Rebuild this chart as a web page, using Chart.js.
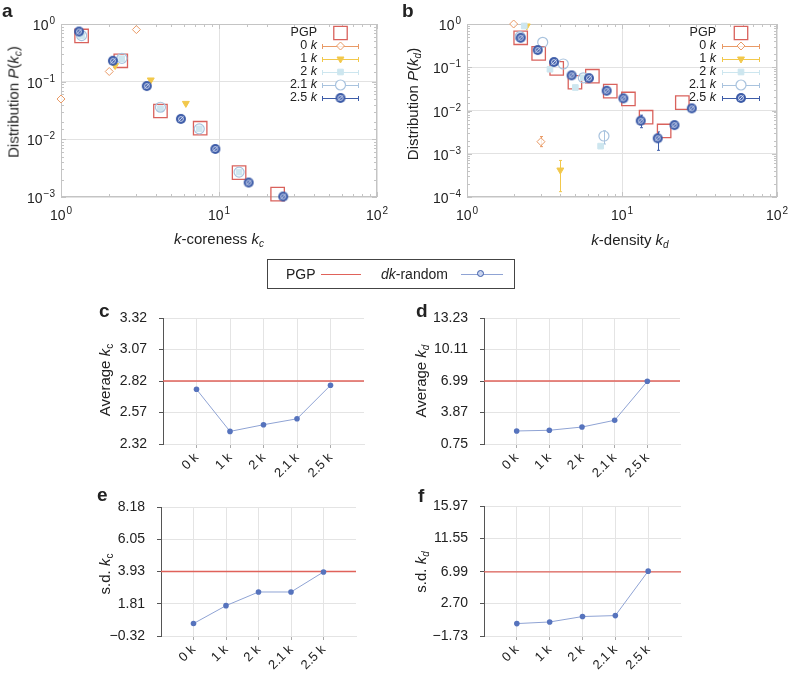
<!DOCTYPE html>
<html>
<head>
<meta charset="utf-8">
<title>k-coreness and k-density of dk-random graphs</title>
<script src="https://cdn.jsdelivr.net/npm/chart.js@4.4.1/dist/chart.umd.min.js"></script>
<style>
  body { margin: 0; background: #fff; }
  #fig { position: relative; width: 788px; height: 674px; font-family: "Liberation Sans", Arial, sans-serif; color: #222; overflow: hidden; }
  #fig canvas { position: absolute; }
  .tag { position: absolute; font-size: 19px; font-weight: bold; line-height: 19px; }
  .ttl { position: absolute; font-size: 15px; white-space: nowrap; transform: translate(-50%, -50%); }
  .ttl.v { transform: translate(-50%, -50%) rotate(-90deg); }
  .ttl sub { font-size: 10px; vertical-align: -3px; line-height: 0; }
  #leg { position: absolute; left: 267px; top: 259px; width: 246px; height: 28px; border: 1px solid #444; font-size: 14px; }
  #leg span { position: absolute; top: 6px; }
  #leg .ln { position: absolute; top: 14px; height: 0; }
  #leg .dot { position: absolute; top: 10px; width: 5px; height: 5px; border-radius: 50%; background: #c9d4ee; border: 1.5px solid #3d5ca8; }
</style>
</head>
<body>
<div id="fig">
  <canvas id="cA" width="390" height="250" style="left:0;top:0"></canvas>
  <canvas id="cB" width="398" height="250" style="left:390px;top:0"></canvas>
  <canvas id="cC" width="390" height="190" style="left:0;top:295px"></canvas>
  <canvas id="cD" width="398" height="190" style="left:390px;top:295px"></canvas>
  <canvas id="cE" width="390" height="194" style="left:0;top:480px"></canvas>
  <canvas id="cF" width="398" height="194" style="left:390px;top:480px"></canvas>

  <div class="tag" style="left:2px;top:1px">a</div>
  <div class="tag" style="left:402px;top:1px">b</div>
  <div class="tag" style="left:99px;top:301px">c</div>
  <div class="tag" style="left:416px;top:301px">d</div>
  <div class="tag" style="left:97px;top:485px">e</div>
  <div class="tag" style="left:418px;top:486px">f</div>

  <div class="ttl v" style="left:13px;top:102px">Distribution <i>P</i>(<i>k<sub>c</sub></i>)</div>
  <div class="ttl v" style="left:412px;top:104px">Distribution <i>P</i>(<i>k<sub>d</sub></i>)</div>
  <div class="ttl" style="left:219px;top:238px"><i>k</i>-coreness <i>k<sub>c</sub></i></div>
  <div class="ttl" style="left:630px;top:239px"><i>k</i>-density <i>k<sub>d</sub></i></div>
  <div class="ttl v" style="left:104px;top:380px">Average <i>k</i><sub>c</sub></div>
  <div class="ttl v" style="left:420px;top:381px">Average <i>k<sub>d</sub></i></div>
  <div class="ttl v" style="left:104px;top:574px">s.d. <i>k</i><sub>c</sub></div>
  <div class="ttl v" style="left:420px;top:572px">s.d. <i>k<sub>d</sub></i></div>

  <div id="leg">
    <span style="left:18px">PGP</span>
    <div class="ln" style="left:53px;width:40px;border-top:1px solid #e0625a"></div>
    <span style="left:113px"><i>dk</i>-random</span>
    <div class="ln" style="left:193px;width:42px;border-top:1px solid #8fa3d4"></div>
    <div class="dot" style="left:209px"></div>
  </div>
</div>

<script>
const FONT = '"Liberation Sans", Arial, sans-serif';

// panel a: distribution of k-coreness, [kc, P(kc)]
const kcPGP = [[1.35, 0.62], [2.39, 0.23], [4.26, 0.031], [7.6, 0.0156], [13.4, 0.00265], [23.5, 0.00112]];
const kc0k = [[1.0, 0.05], [2.02, 0.15], [3.0, 0.8]];
const kc1k = [[2.2, 0.19], [3.7, 0.107], [6.17, 0.042]];
const kc2k = [[1.35, 0.62], [2.42, 0.25], [4.26, 0.034], [7.5, 0.0152], [13.4, 0.0027]];
const kc21k = [[1.35, 0.63], [2.43, 0.254], [4.26, 0.036], [7.5, 0.0152], [13.4, 0.0027]];
const kc25k = [[1.30, 0.74], [2.13, 0.23], [3.49, 0.084], [5.74, 0.0226], [9.48, 0.0068], [15.4, 0.00178], [25.5, 0.00102]];

// panel b: distribution of k-density, [kd, P(kd)]
const kdPGP = [[2.22, 0.48], [2.9, 0.21], [3.79, 0.094], [4.97, 0.045], [6.44, 0.062], [8.4, 0.028], [11.0, 0.0185], [14.3, 0.0070], [18.7, 0.00336], [24.5, 0.0152]];
const kd0k = [[2.0, 1.0], [3.0, 0.0019]];
const kd1k = [[2.43, 0.9], [4.0, 0.00042]];
const kd2k = [[2.34, 0.9], [3.43, 0.09], [5.0, 0.034], [5.63, 0.057], [7.28, 0.0015]];
const kd21k = [[2.2, 0.51], [3.08, 0.377], [4.18, 0.119], [5.63, 0.057], [7.65, 0.00257]];
const kd25k = [[2.22, 0.48], [2.86, 0.25], [3.64, 0.132], [4.73, 0.065], [6.12, 0.056], [7.96, 0.0287], [10.2, 0.0191], [13.2, 0.0058], [17.0, 0.00228], [21.8, 0.0046], [28.2, 0.0112]];
// error bars [kd, low, high]
const kdErr0k = [[3.0, 0.00146, 0.0025]];
const kdErr1k = [[4.0, 0.000133, 0.0007]];
const kdErr21k = [[7.65, 0.00168, 0.0034]];
const kdErr25k = [[13.2, 0.0040, 0.0078], [17.0, 0.0012, 0.0032]];

// panels c-f
const models = ['0 k', '1 k', '2 k', '2.1 k', '2.5 k'];
const avgKc = [2.754, 2.42, 2.473, 2.52, 2.786];
const avgKd = [2.04, 2.11, 2.43, 3.10, 6.96];
const sdKc = [0.50, 1.68, 2.58, 2.58, 3.90];
const sdKd = [-0.04, 0.18, 0.92, 1.05, 7.1];
const pgpAvgKc = 2.82, pgpAvgKd = 6.99, pgpSdKc = 3.93, pgpSdKd = 6.99;
const ticksAvgKc = [2.32, 2.57, 2.82, 3.07, 3.32];
const ticksAvgKd = [0.75, 3.87, 6.99, 10.11, 13.23];
const ticksSdKc = [-0.32, 1.81, 3.93, 6.05, 8.18];
const ticksSdKd = [-1.73, 2.70, 6.99, 11.55, 15.97];

const seriesNames = ['PGP', '0 k', '1 k', '2 k', '2.1 k', '2.5 k'];

function dkMarker(r) {
  const c = document.createElement('canvas');
  c.width = c.height = 2 * r + 2;
  const g = c.getContext('2d');
  const m = r + 1;
  g.fillStyle = '#3d5ca8';
  g.beginPath(); g.arc(m, m, r, 0, Math.PI * 2); g.fill();
  g.strokeStyle = 'rgba(225,232,248,0.9)';
  g.lineWidth = 1;
  g.beginPath(); g.arc(m, m, r * 0.48, 0, Math.PI * 2); g.stroke();
  g.beginPath(); g.moveTo(m - r * 0.5, m + r * 0.5); g.lineTo(m + r * 0.5, m - r * 0.5); g.stroke();
  return c;
}

const seriesStyle = [
  { color: '#d9625c', fill: 'rgba(0,0,0,0)', pointStyle: 'rect', radius: 9.5, border: 1.3 },
  { color: '#e99a66', fill: 'rgba(255,255,255,0.8)', pointStyle: 'rectRot', radius: 4, border: 1 },
  { color: '#f2c84b', fill: '#f2c84b', pointStyle: 'triangle', radius: 4, rotation: 180, border: 1 },
  { color: '#cde6ef', fill: '#cde6ef', pointStyle: 'rect', radius: 4, border: 1 },
  { color: '#a9c3de', fill: 'rgba(0,0,0,0)', pointStyle: 'circle', radius: 5, border: 1.2 },
  { color: '#3d5ca8', fill: '#3d5ca8', pointStyle: dkMarker(5), radius: 5, border: 0 }
];

function isPow10(v) {
  const l = Math.log10(v);
  return Math.abs(l - Math.round(l)) < 1e-6;
}

function drawPow(ctx, e, x, y, align) {
  const base = '10', sup = e < 0 ? '\u2212' + (-e) : String(e);
  ctx.font = '14px ' + FONT;
  const wb = ctx.measureText(base).width;
  ctx.font = '10px ' + FONT;
  const ws = ctx.measureText(sup).width;
  const w = wb + ws + 1;
  const left = align === 'center' ? x - w / 2 : x - w;
  ctx.textAlign = 'left';
  ctx.textBaseline = 'alphabetic';
  ctx.font = '14px ' + FONT;
  ctx.fillText(base, left, y);
  ctx.font = '10px ' + FONT;
  ctx.fillText(sup, left + wb + 1, y - 6);
}

// frame, inward ticks and 10^n labels of the log panels
const logFrame = {
  id: 'logFrame',
  beforeDatasetsDraw(chart) {
    const { ctx, chartArea: a, scales: { x, y } } = chart;
    ctx.save();
    ctx.strokeStyle = '#c4c4c4';
    ctx.lineWidth = 1;
    ctx.strokeRect(a.left + 0.5, a.top + 0.5, a.right - a.left - 1, a.bottom - a.top - 1);
    ctx.beginPath();
    x.ticks.forEach(t => {
      const px = Math.round(x.getPixelForValue(t.value)) + 0.5;
      const len = isPow10(t.value) ? 5 : 3;
      ctx.moveTo(px, a.bottom); ctx.lineTo(px, a.bottom - len);
      ctx.moveTo(px, a.top); ctx.lineTo(px, a.top + len);
    });
    y.ticks.forEach(t => {
      const py = Math.round(y.getPixelForValue(t.value)) + 0.5;
      const len = isPow10(t.value) ? 5 : 3;
      ctx.moveTo(a.left, py); ctx.lineTo(a.left + len, py);
      ctx.moveTo(a.right, py); ctx.lineTo(a.right - len, py);
    });
    ctx.stroke();
    ctx.fillStyle = '#222';
    x.ticks.filter(t => isPow10(t.value)).forEach(t => {
      drawPow(ctx, Math.round(Math.log10(t.value)), x.getPixelForValue(t.value), a.bottom + 23, 'center');
    });
    y.ticks.filter(t => isPow10(t.value)).forEach(t => {
      drawPow(ctx, Math.round(Math.log10(t.value)), a.left - 6, y.getPixelForValue(t.value) + 6, 'right');
    });
    ctx.restore();
  }
};

const errorBars = {
  id: 'errorBars',
  beforeDatasetsDraw(chart) {
    const { ctx, scales: { x, y } } = chart;
    ctx.save();
    ctx.lineWidth = 1;
    chart.data.datasets.forEach(ds => {
      (ds.errors || []).forEach(([ex, lo, hi]) => {
        const px = Math.round(x.getPixelForValue(ex)) + 0.5;
        const p1 = y.getPixelForValue(lo), p2 = y.getPixelForValue(hi);
        ctx.strokeStyle = ds.borderColor;
        ctx.beginPath();
        ctx.moveTo(px, p1); ctx.lineTo(px, p2);
        ctx.moveTo(px - 1.5, p1); ctx.lineTo(px + 1.5, p1);
        ctx.moveTo(px - 1.5, p2); ctx.lineTo(px + 1.5, p2);
        ctx.stroke();
      });
    });
    ctx.restore();
  }
};

const insetLegend = {
  id: 'insetLegend',
  afterDatasetsDraw(chart, args, opts) {
    const ctx = chart.ctx;
    ctx.save();
    chart.data.datasets.forEach((ds, i) => {
      const s = seriesStyle[i];
      const y = opts.top + i * 13;
      const parts = ds.label.split(' ');
      ctx.fillStyle = '#222';
      ctx.textBaseline = 'middle';
      ctx.textAlign = 'right';
      if (parts.length === 2) {
        ctx.font = 'italic 12.5px ' + FONT;
        const wk = ctx.measureText('k').width;
        ctx.fillText('k', opts.textRight, y);
        ctx.font = '12.5px ' + FONT;
        ctx.fillText(parts[0] + ' ', opts.textRight - wk, y);
        ctx.strokeStyle = s.color;
        ctx.lineWidth = 1;
        ctx.beginPath();
        ctx.moveTo(opts.lineStart, y + 0.5); ctx.lineTo(opts.lineEnd, y + 0.5);
        ctx.moveTo(opts.lineStart + 0.5, y - 2); ctx.lineTo(opts.lineStart + 0.5, y + 3);
        ctx.moveTo(opts.lineEnd - 0.5, y - 2); ctx.lineTo(opts.lineEnd - 0.5, y + 3);
        ctx.stroke();
      } else {
        ctx.font = '12.5px ' + FONT;
        ctx.fillText(ds.label, opts.textRight, y);
      }
      const mx = (opts.lineStart + opts.lineEnd) / 2;
      ctx.fillStyle = s.fill === 'rgba(0,0,0,0)' ? '#fff' : s.fill;
      ctx.strokeStyle = s.color;
      ctx.lineWidth = s.border;
      Chart.helpers.drawPoint(ctx, { pointStyle: s.pointStyle, radius: s.radius, rotation: s.rotation || 0, borderWidth: s.border }, mx, y);
    });
    ctx.restore();
  }
};

function logChart(id, series, errors, yMin, pad, yWidth, xHeight, legendOpts) {
  const datasets = series.map((pts, i) => {
    const s = seriesStyle[i];
    return {
      label: seriesNames[i],
      data: pts.map(p => ({ x: p[0], y: p[1] })),
      errors: errors[i] || [],
      pointStyle: s.pointStyle,
      pointRadius: s.radius,
      pointRotation: s.rotation || 0,
      borderColor: s.color,
      backgroundColor: s.fill,
      pointBorderWidth: s.border,
      clip: false,
      order: series.length - i
    };
  });
  const grid = { color: c => isPow10(c.tick.value) ? '#e2e2e2' : 'rgba(0,0,0,0)', drawTicks: false };
  new Chart(document.getElementById(id), {
    type: 'scatter',
    data: { datasets },
    plugins: [logFrame, errorBars, insetLegend],
    options: {
      responsive: false,
      animation: false,
      layout: { padding: pad },
      plugins: { legend: { display: false }, tooltip: { enabled: false }, insetLegend: legendOpts },
      scales: {
        x: { type: 'logarithmic', min: 1, max: 100, grid, border: { display: false }, ticks: { display: false },
             afterFit: s => { s.height = xHeight; } },
        y: { type: 'logarithmic', min: yMin, max: 1, grid, border: { display: false }, ticks: { display: false },
             afterFit: s => { s.width = yWidth; } }
      }
    }
  });
}

function lineChart(id, values, pgpValue, tickVals, pad, yWidth, xHeight) {
  new Chart(document.getElementById(id), {
    type: 'scatter',
    data: {
      datasets: [
        { data: values.map((v, i) => ({ x: i + 1, y: v })), showLine: true, borderColor: '#8fa3d4', borderWidth: 1,
          pointRadius: 2.8, pointBackgroundColor: '#5673bd', pointBorderColor: '#5673bd', pointBorderWidth: 0, clip: false },
        { data: [{ x: 0, y: pgpValue }, { x: models.length + 1, y: pgpValue }], showLine: true,
          borderColor: '#e0625a', borderWidth: 1.3, pointRadius: 0 }
      ]
    },
    options: {
      responsive: false,
      animation: false,
      layout: { padding: pad },
      plugins: { legend: { display: false }, tooltip: { enabled: false } },
      scales: {
        x: {
          type: 'linear', min: 0, max: models.length + 1,
          afterBuildTicks: s => { s.ticks = models.map((m, i) => ({ value: i + 1 })); },
          afterFit: s => { s.height = xHeight; },
          grid: { color: '#e4e4e4', tickLength: 4, tickColor: '#aaa' },
          border: { color: '#e4e4e4' },
          ticks: { callback: v => models[v - 1], minRotation: 45, maxRotation: 45, padding: 2, color: '#222', font: { size: 13, family: FONT } }
        },
        y: {
          min: tickVals[0], max: tickVals[tickVals.length - 1],
          afterBuildTicks: s => { s.ticks = tickVals.map(v => ({ value: v })); },
          afterFit: s => { s.width = yWidth; },
          grid: { color: '#e4e4e4', tickLength: 4, tickColor: '#555' },
          border: { color: '#555' },
          ticks: { callback: v => v.toFixed(2).replace('-', '\u2212'), padding: 12, color: '#222', font: { size: 14, family: FONT } }
        }
      }
    }
  });
}

logChart('cA', [kcPGP, kc0k, kc1k, kc2k, kc21k, kc25k], [], 0.001,
  { left: 0, top: 24, right: 13, bottom: 0 }, 61, 53,
  { top: 33, textRight: 317, lineStart: 322, lineEnd: 359 });

logChart('cB', [kdPGP, kd0k, kd1k, kd2k, kd21k, kd25k], [[], kdErr0k, kdErr1k, [], kdErr21k, kdErr25k], 0.0001,
  { left: 0, top: 24, right: 11, bottom: 0 }, 77, 53,
  { top: 33, textRight: 326, lineStart: 332, lineEnd: 370 });

lineChart('cC', avgKc, pgpAvgKc, ticksAvgKc, { left: 0, top: 23, right: 26, bottom: 0 }, 163, 41);
lineChart('cD', avgKd, pgpAvgKd, ticksAvgKd, { left: 0, top: 23, right: 108, bottom: 0 }, 94, 41);
lineChart('cE', sdKc, pgpSdKc, ticksSdKc, { left: 0, top: 27, right: 34, bottom: 0 }, 161, 38);
lineChart('cF', sdKd, pgpSdKd, ticksSdKd, { left: 0, top: 26, right: 107, bottom: 0 }, 94, 38);
</script>
</body>
</html>
